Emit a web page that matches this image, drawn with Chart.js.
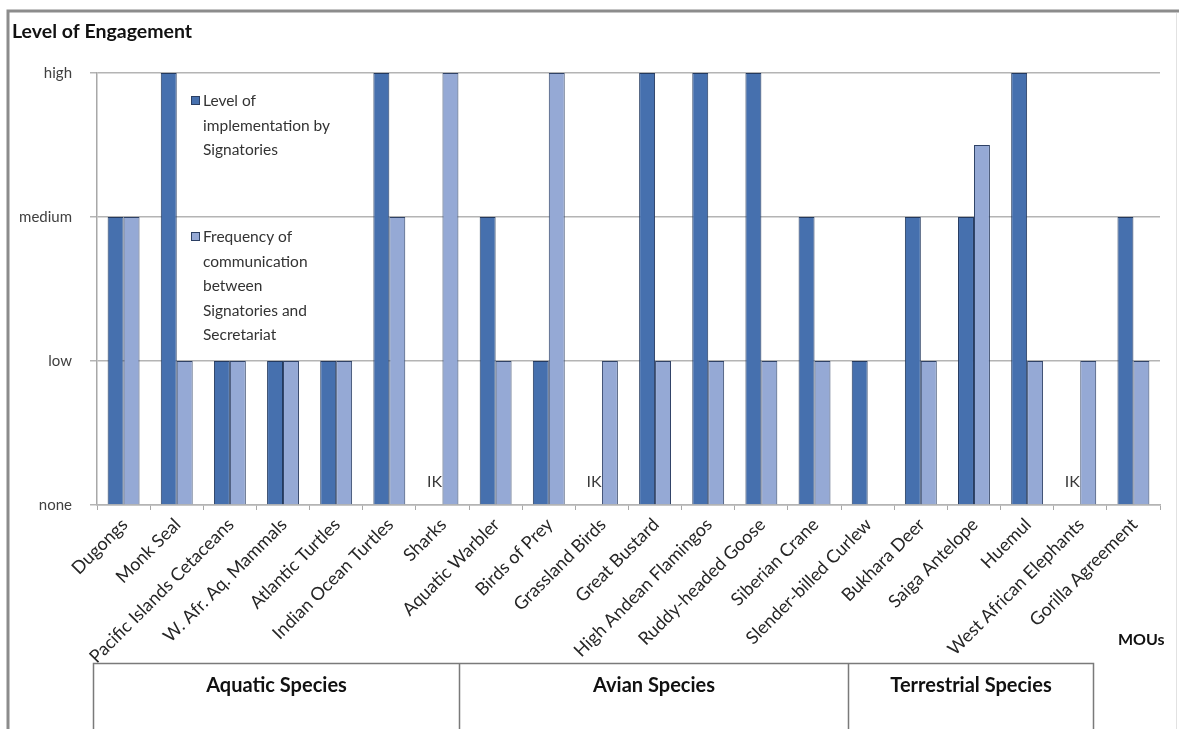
<!DOCTYPE html>
<html>
<head>
<meta charset="utf-8">
<script src="https://cdn.jsdelivr.net/npm/chart.js@4/dist/chart.umd.min.js"></script>
<style>
  html, body { margin: 0; padding: 0; background: #ffffff; }
  canvas { display: block; }
</style>
</head>
<body>
<canvas id="c" width="1179" height="729"></canvas>
<script>
// MOUs along the x axis
const categories = [
  "Dugongs", "Monk Seal", "Pacific Islands Cetaceans", "W. Afr. Aq. Mammals",
  "Atlantic Turtles", "Indian Ocean Turtles", "Sharks", "Aquatic Warbler",
  "Birds of Prey", "Grassland Birds", "Great Bustard", "High Andean Flamingos",
  "Ruddy-headed Goose", "Siberian Crane", "Slender-billed Curlew", "Bukhara Deer",
  "Saiga Antelope", "Huemul", "West African Elephants", "Gorilla Agreement"
];

// 0 = none, 1 = low, 2 = medium, 3 = high; null = insufficient knowledge (IK)
const implementation = [2, 3, 1, 1, 1, 3, null, 2, 1, null, 3, 3, 3, 2, 1, 2, 2, 3, null, 2];
const communication  = [2, 1, 1, 1, 1, 2, 3, 1, 3, 1, 1, 1, 1, 1, 0, 1, 2.5, 1, 1, 1];

const levelLabels = ["none", "low", "medium", "high"];

const seriesNames = [
  ["Level of", "implementation by", "Signatories"],
  ["Frequency of", "communication", "between", "Signatories and", "Secretariat"]
];

const groupNames = ["Aquatic Species", "Avian Species", "Terrestrial Species"];

const FONT = "Lato, 'Open Sans', 'DejaVu Sans', sans-serif";
const DARK = "#4670ae";
const LIGHT = "#95a9d5";

// Page frame, titles, legend, IK markers and the species group boxes
const decorations = {
  id: "decorations",
  beforeDraw(chart) {
    const ctx = chart.ctx;
    ctx.save();
    ctx.fillStyle = "#ffffff";
    ctx.fillRect(0, 0, chart.width, chart.height);
    ctx.restore();
  },
  afterDraw(chart) {
    const ctx = chart.ctx;
    ctx.save();

    // outer frame
    ctx.strokeStyle = "#8c8c8c";
    ctx.lineWidth = 3;
    ctx.beginPath();
    ctx.moveTo(8, chart.height);
    ctx.lineTo(8, 11);
    ctx.lineTo(chart.width, 11);
    ctx.stroke();
    ctx.strokeStyle = "#e2e2e2";
    ctx.lineWidth = 1;
    ctx.beginPath();
    ctx.moveTo(1176.5, 13);
    ctx.lineTo(1176.5, chart.height);
    ctx.stroke();

    // axis titles
    ctx.fillStyle = "#111111";
    ctx.textAlign = "left";
    ctx.textBaseline = "middle";
    ctx.font = "bold 19.5px " + FONT;
    ctx.fillText("Level of Engagement", 12, 32);
    ctx.font = "bold 16px " + FONT;
    ctx.fillText("MOUs", 1118, 640);

    // legend
    ctx.font = "15.5px " + FONT;
    const entries = [
      { color: DARK, top: 101, lines: seriesNames[0] },
      { color: LIGHT, top: 237, lines: seriesNames[1] }
    ];
    entries.forEach(e => {
      ctx.fillStyle = e.color;
      ctx.fillRect(191, e.top - 5, 9, 9);
      ctx.strokeStyle = "#2b3f63";
      ctx.lineWidth = 1;
      ctx.strokeRect(191.5, e.top - 4.5, 8, 8);
      ctx.fillStyle = "#333333";
      e.lines.forEach((t, i) => ctx.fillText(t, 203, e.top + i * 24.5));
    });

    // IK markers where implementation is unknown
    const meta = chart.getDatasetMeta(0);
    const xScale = chart.scales.x;
    const yScale = chart.scales.y;
    ctx.font = "16px " + FONT;
    ctx.fillStyle = "#3a3a3a";
    ctx.textAlign = "center";
    implementation.forEach((v, i) => {
      if (v === null) {
        let x = meta.data[i] && isFinite(meta.data[i].x) ? meta.data[i].x
          : xScale.getPixelForValue(i) - 8;
        ctx.fillText("IK", x, yScale.getPixelForValue(0) - 23);
      }
    });

    // species group boxes
    ctx.strokeStyle = "#7a7a7a";
    ctx.lineWidth = 1.5;
    const top = 663.5;
    const edges = [93.5, 459.5, 848.5, 1093.5];
    ctx.beginPath();
    ctx.moveTo(edges[0], chart.height);
    ctx.lineTo(edges[0], top);
    ctx.lineTo(edges[3], top);
    ctx.lineTo(edges[3], chart.height);
    ctx.moveTo(edges[1], top);
    ctx.lineTo(edges[1], chart.height);
    ctx.moveTo(edges[2], top);
    ctx.lineTo(edges[2], chart.height);
    ctx.stroke();
    ctx.font = "bold 20px " + FONT;
    ctx.fillStyle = "#111111";
    groupNames.forEach((g, i) => {
      ctx.fillText(g, (edges[i] + edges[i + 1]) / 2, 686);
    });

    ctx.restore();
  }
};

new Chart(document.getElementById("c"), {
  type: "bar",
  data: {
    labels: categories,
    datasets: [
      {
        label: seriesNames[0].join(" "),
        data: implementation,
        backgroundColor: DARK,
        borderColor: "#23395e",
        borderWidth: 1
      },
      {
        label: seriesNames[1].join(" "),
        data: communication,
        backgroundColor: LIGHT,
        borderColor: "#2f4266",
        borderWidth: 1
      }
    ]
  },
  options: {
    responsive: false,
    animation: false,
    layout: { padding: { top: 73, right: 19, left: 0, bottom: 0 } },
    datasets: { bar: { categoryPercentage: 0.6, barPercentage: 1.0 } },
    plugins: {
      legend: { display: false },
      tooltip: { enabled: false }
    },
    scales: {
      y: {
        min: 0,
        max: 3,
        ticks: {
          stepSize: 1,
          padding: 18,
          color: "#404040",
          font: { family: FONT, size: 15 },
          callback: v => levelLabels[v]
        },
        grid: { color: "#b4b4b4", lineWidth: 1.5, tickLength: 7 },
        border: { display: true, color: "#a8a8a8", width: 1.5 },
        afterFit(scale) { scale.width = 97; }
      },
      x: {
        ticks: {
          minRotation: 45,
          maxRotation: 45,
          autoSkip: false,
          padding: 4,
          labelOffset: 1,
          color: "#262626",
          font: { family: FONT, size: 18 }
        },
        grid: {
          offset: true,
          drawOnChartArea: false,
          color: "#a8a8a8",
          lineWidth: 1,
          tickLength: 5
        },
        border: { display: true, color: "#b4b4b4", width: 1.5 },
        afterFit(scale) { scale.height = 224; }
      }
    }
  },
  plugins: [decorations]
});
</script>
</body>
</html>
